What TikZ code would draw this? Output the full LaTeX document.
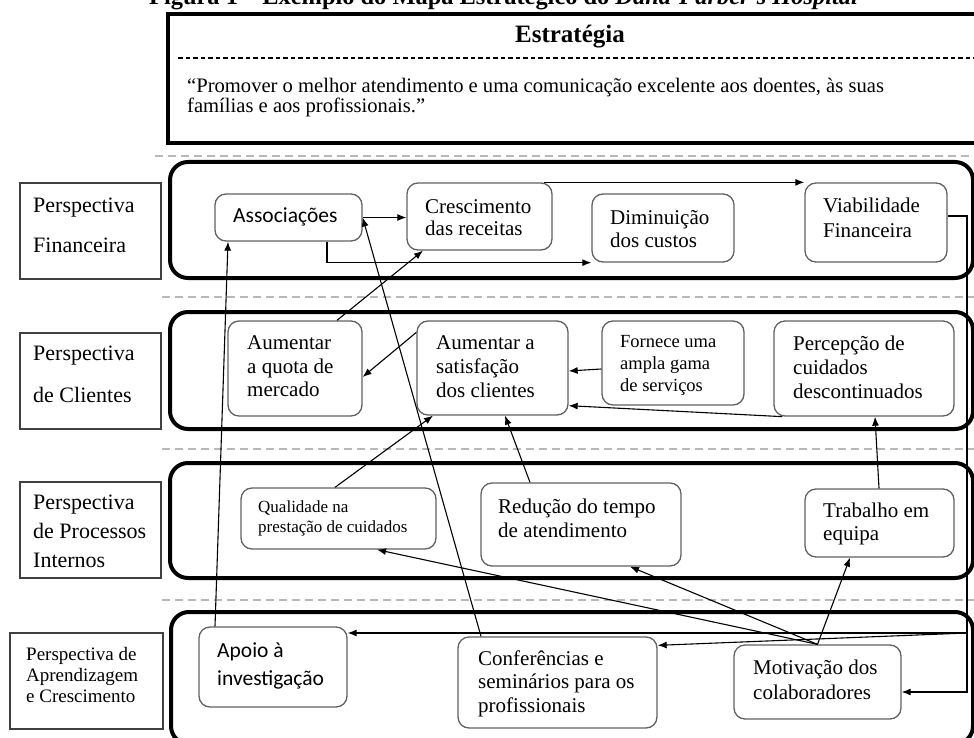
\documentclass[tikz,border=0pt]{standalone}
\usepackage{fontspec}
\setmainfont{Liberation Serif}
\newfontfamily\calibri{Carlito}
\usetikzlibrary{arrows.meta}
\newcommand\setfs[2]{\fontsize{#1}{#2}\selectfont}

\begin{document}
\begin{tikzpicture}[x=1pt,y=-1pt,
  lane/.style={draw=black, line width=4pt, rounded corners=18pt},
  sep/.style={draw=black!28, line width=1.4pt, dash pattern=on 8pt off 5pt},
  lbl/.style={draw=black!75, line width=1.3pt, inner sep=0pt},
  obj/.style={draw=black!62, line width=1.3pt, rounded corners=11pt, fill=white, inner sep=0pt},
  tx/.style={inner sep=0pt, anchor=west, align=left},
  conn/.style={line width=1.1pt, -{Latex[length=9pt,width=7pt]}},
]
\useasboundingbox (0,0) rectangle (974,738);

% caption, cut by the top of the page
\node[inner sep=0pt, anchor=base west, font=\bfseries\setfs{24.4}{26}] (cap) at (149,5)
  {Figura 1 – Exemplo do Mapa Estratégico do \textit{Dana-Farber's Hospital}};

% strategy block
\node[draw=black, line width=4pt, minimum width=810pt, minimum height=129pt, inner sep=0pt] (strat) at (573,78.5) {};
\node[font=\bfseries\setfs{25}{27}, inner sep=0pt] (title) at (570,37) {Estratégia};
\draw[line width=1.3pt, dash pattern=on 4.5pt off 3pt] (178,58) -- (974,58);
\node[tx, font=\setfs{20.6}{20}] (quote) at (187,98)
  {“Promover o melhor atendimento e uma comunicação excelente aos doentes, às suas\\famílias e aos profissionais.”};

% separators
\draw[sep] (155,156) -- (974,156);
\draw[sep] (162,297) -- (974,297);
\draw[sep] (162,449) -- (974,449);
\draw[sep] (162,600) -- (974,600);

% perspective lanes
\draw[lane] (170,162) rectangle (973,278);
\draw[lane] (170,312) rectangle (973,429);
\draw[lane] (170,463) rectangle (973,578);
\draw[lane] (171,612) rectangle (973,744);

% perspective labels
\node[lbl, minimum width=141pt, minimum height=96pt] (lfin) at (90.5,231) {};
\node[tx, font=\setfs{22}{40}] (lfint) at (33,225) {Perspectiva\\Financeira};
\node[lbl, minimum width=141pt, minimum height=96pt] (lcli) at (90.5,381) {};
\node[tx, font=\setfs{22}{42}] (lclit) at (33,374) {Perspectiva\\de Clientes};
\node[lbl, minimum width=141pt, minimum height=96pt] (lpro) at (90.5,530) {};
\node[tx, font=\setfs{22}{29}] (lprot) at (33,531) {Perspectiva\\de Processos\\Internos};
\node[lbl, minimum width=153pt, minimum height=96pt] (lapr) at (86.5,681) {};
\node[tx, font=\setfs{19}{21}] (laprt) at (26,675) {Perspectiva de\\Aprendizagem\\e Crescimento};

% financial objectives
\node[obj, minimum width=147pt, minimum height=47pt] (assoc) at (288.5,217.5) {};
\node[tx, font=\calibri\setfs{21.5}{24}] (assoct) at (233,217) {Associações};
\node[obj, minimum width=145pt, minimum height=67pt] (cresc) at (479.5,216.5) {};
\node[tx, font=\setfs{21}{21.5}] (cresct) at (425,217.5) {Crescimento\\das receitas};
\node[obj, minimum width=142pt, minimum height=68pt] (dimin) at (663,228) {};
\node[tx, font=\setfs{21}{22.5}] (dimint) at (610,229) {Diminuição\\dos custos};
\node[obj, minimum width=142pt, minimum height=79pt] (viab) at (876,222.5) {};
\node[tx, font=\setfs{21}{25}] (viabt) at (823,217.5) {Viabilidade\\Financeira};

% customer objectives
\node[obj, minimum width=134pt, minimum height=95pt] (quota) at (295,368.5) {};
\node[tx, font=\setfs{21}{23.5}] (quotat) at (247,366.5) {Aumentar\\a quota de\\mercado};
\node[obj, minimum width=151pt, minimum height=94pt] (satis) at (492.5,368) {};
\node[tx, font=\setfs{21}{24}] (satist) at (436,367) {Aumentar a\\satisfação\\dos clientes};
\node[obj, minimum width=142pt, minimum height=84pt] (forn) at (673,363) {};
\node[tx, font=\setfs{18.5}{22}] (fornt) at (620,365) {Fornece uma\\ampla gama\\de serviços};
\node[obj, minimum width=180pt, minimum height=95pt] (perc) at (864,368.5) {};
\node[tx, font=\setfs{21}{24}] (perct) at (793,367) {Percepção de\\cuidados\\descontinuados};

% internal process objectives
\node[obj, minimum width=195pt, minimum height=61pt] (qual) at (338.5,518.5) {};
\node[tx, font=\setfs{17}{20}] (qualt) at (258,518) {Qualidade na\\prestação de cuidados};
\node[obj, minimum width=200pt, minimum height=83pt] (red) at (581,524.5) {};
\node[tx, font=\setfs{21}{24}] (redt) at (498,518) {Redução do tempo\\de atendimento};
\node[obj, minimum width=149pt, minimum height=68pt] (trab) at (879.5,523) {};
\node[tx, font=\setfs{21}{23}] (trabt) at (823,523.5) {Trabalho em\\equipa};

% learning and growth objectives
\node[obj, minimum width=148pt, minimum height=80pt] (apoio) at (273,667) {};
\node[tx, font=\calibri\setfs{21.5}{28}] (apoiot) at (217,666) {Apoio à\\investigação};
\node[obj, minimum width=199pt, minimum height=91pt] (conf) at (557.5,682.5) {};
\node[tx, font=\setfs{21}{23.5}] (conft) at (478,683.5) {Conferências e\\seminários para os\\profissionais};
\node[obj, minimum width=167pt, minimum height=74pt] (mot) at (817.5,682) {};
\node[tx, font=\setfs{21}{25}] (mott) at (753,679.5) {Motivação dos\\colaboradores};

% junction on the right-hand rail
\coordinate (rail) at (967,633);

% cause-and-effect links
\draw[conn] (assoc.east) -- ([yshift=-1pt]cresc.west);
\draw[conn] ([xshift=-9pt]cresc.north east) -- (viab.north west);
\draw[conn] ([xshift=38.5pt]assoc.south) |- (dimin.south west);
\draw[conn] ([yshift=6.5pt]viab.east) -| (rail) |- ([yshift=-10pt]mot.east);
\draw[conn] (rail) -- (rail -| apoio.east);
\draw[conn] (rail) -- ([yshift=-9pt]conf.north east);
\draw[conn] ([xshift=-76.5pt]conf.north) -- (assoc.east);
\draw[conn] ([xshift=-58pt]apoio.north) -- ([xshift=-60.5pt]assoc.south);
\draw[conn] ([xshift=42pt]quota.north) -- ([xshift=-56.5pt]cresc.south);
\draw[conn] ([yshift=-12pt]satis.north west) -- ([yshift=-8.5pt]quota.east);
\draw[conn] ([yshift=-6pt]forn.west) -- ([yshift=-3pt]satis.east);
\draw[conn] ([xshift=9pt]perc.south west) -- ([yshift=10pt]satis.south east);
\draw[conn] ([xshift=-3.5pt]qual.north) -- ([xshift=-59.5pt]satis.south);
\draw[conn] ([xshift=-51pt]red.north) -- ([xshift=12.5pt]satis.south);
\draw[conn] ([xshift=-0.5pt]trab.north) -- ([xshift=11pt]perc.south);
\draw[conn] (mot.north) -- ([xshift=38.5pt]qual.south);
\draw[conn] (mot.north) -- ([xshift=49pt]red.south);
\draw[conn] (mot.north) -- ([xshift=-29.5pt]trab.south);
\end{tikzpicture}
\end{document}
